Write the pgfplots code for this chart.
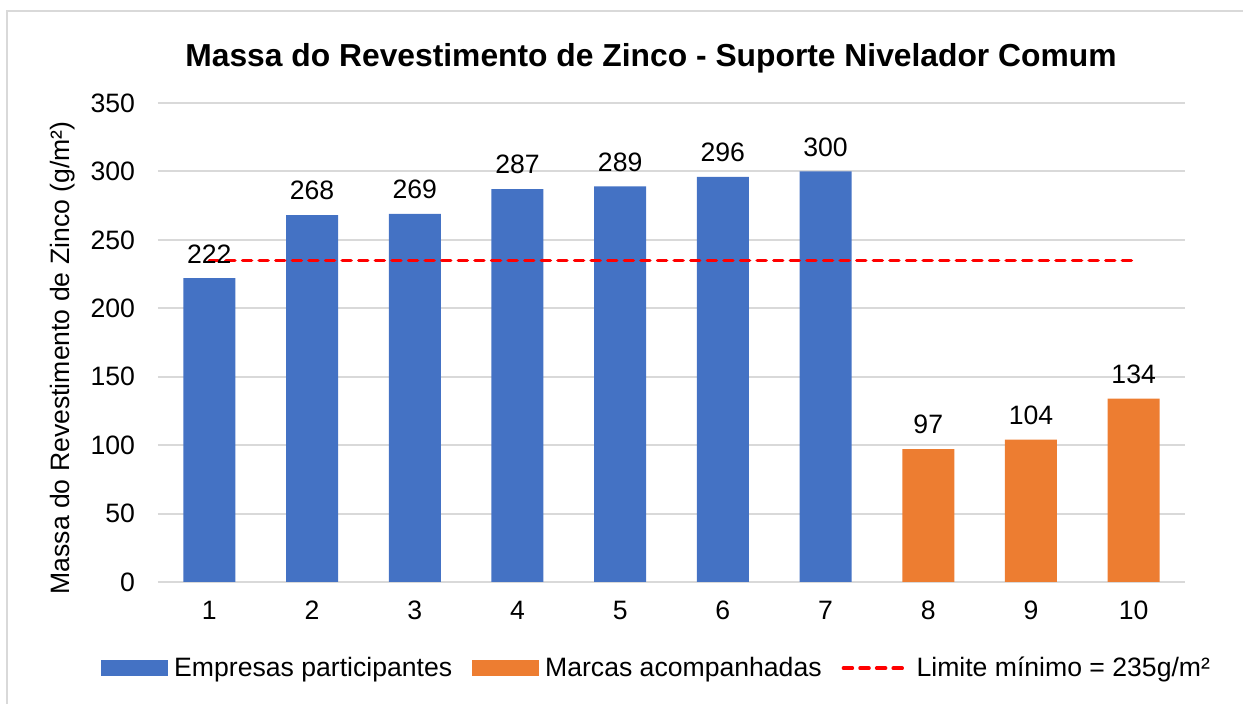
\documentclass[border=0pt]{standalone}
\usepackage{fontspec}
\setmainfont{Liberation Sans}
\usepackage{pgfplots}
\pgfplotsset{compat=1.18}
\definecolor{cblue}{HTML}{4472C4}
\definecolor{corange}{HTML}{ED7D31}
\definecolor{cgrid}{HTML}{D9D9D9}
\begin{document}
\begin{tikzpicture}
\path[use as bounding box] (0pt,0pt) rectangle (621.5pt,352pt);
\draw[cgrid, line width=1pt] (3.5pt,0pt) -- (3.5pt,346.5pt) -- (621.5pt,346.5pt);
\node[font=\fontsize{15.9pt}{18pt}\selectfont\bfseries] at (325.5pt,323pt) {Massa do Revestimento de Zinco - Suporte Nivelador Comum};
\node[rotate=90, font=\fontsize{13.3pt}{16pt}\selectfont] at (31.5pt,173pt) {Massa do Revestimento de Zinco (g/m²)};
\begin{axis}[
  at={(79pt,61pt)}, anchor=south west,
  scale only axis, width=513.5pt, height=239.5pt,
  xmin=0.5, xmax=10.5, ymin=0, ymax=350,
  xtick={1,...,10}, ytick={0,50,...,350},
  axis x line*=bottom, axis y line*=left,
  x axis line style={cgrid, line width=1pt, -},
  y axis line style={draw=none},
  ymajorgrids, grid style={cgrid, line width=1pt},
  major tick length=0pt,
  ticklabel style={font=\fontsize{13.3pt}{16pt}\selectfont},
  /pgf/number format/assume math mode=true,
  yticklabel style={xshift=-8pt},
  xticklabel style={yshift=-6pt},
  legend style={draw=none, at={(0.4865,-0.18)}, anchor=center, legend columns=-1,
    font=\fontsize{13.3pt}{16pt}\selectfont, inner sep=0pt,
    /tikz/every odd column/.append style={column sep=1pt},
    /tikz/every even column/.append style={column sep=8pt}},
  legend cell align=left,
]
\addplot[ybar, bar width=26pt, bar shift=0pt, fill=cblue, draw=none,
  nodes near coords, every node near coord/.append style={font=\fontsize{13.3pt}{16pt}\selectfont, yshift=4pt, text=black},
  legend image code/.code={\fill[cblue] (0pt,-4pt) rectangle (33.5pt,4pt);}]
  coordinates {(1,222) (2,268) (3,269) (4,287) (5,289) (6,296) (7,300)};
\addlegendentry{Empresas participantes}
\addplot[ybar, bar width=26pt, bar shift=0pt, fill=corange, draw=none,
  nodes near coords, every node near coord/.append style={font=\fontsize{13.3pt}{16pt}\selectfont, yshift=4pt, text=black},
  legend image code/.code={\fill[corange] (0pt,-4pt) rectangle (33.5pt,4pt);}]
  coordinates {(8,97) (9,104) (10,134)};
\addlegendentry{Marcas acompanhadas}
\addplot[red, line width=1.75pt, line cap=round, dash pattern=on 4.5pt off 3.8pt, mark=none,
  legend image code/.code={\draw[red, line width=1.75pt, line cap=round, dash pattern=on 4.5pt off 3.8pt] (0.9pt,0pt) -- (33.6pt,0pt);}]
  coordinates {(1,235) (10,235)};
\addlegendentry{Limite mínimo = 235g/m²}
\end{axis}
\end{tikzpicture}
\end{document}
